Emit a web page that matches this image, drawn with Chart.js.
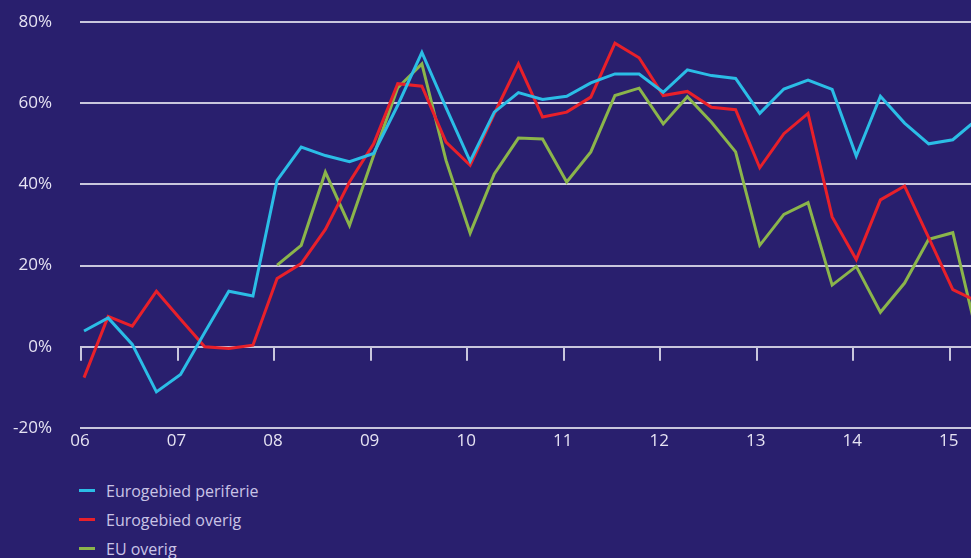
<!DOCTYPE html>
<html>
<head>
<meta charset="utf-8">
<script src="https://cdn.jsdelivr.net/npm/chart.js@4/dist/chart.umd.min.js"></script>
<style>
  html, body { margin: 0; padding: 0; background: #291f6e; overflow: hidden; }
  #wrap { position: relative; width: 971px; height: 458px; }
  .legend { list-style: none; margin: 0; padding: 0; position: absolute; left: 79px; top: 476px; }
  .legend li { height: 29px; display: flex; align-items: center; font: 16px "Open Sans", sans-serif; color: #c9c4e6; }
  .legend .swatch { width: 16px; height: 3px; margin-right: 11px; }
</style>
</head>
<body>
<div id="wrap"><canvas id="chart" width="971" height="458"></canvas></div>
<ul class="legend" id="legend"></ul>
<script>
// quarters 2006K1 .. 2015K2
const quarters = [
  '2006K1', '2006K2', '2006K3', '2006K4', '2007K1', '2007K2', '2007K3', '2007K4',
  '2008K1', '2008K2', '2008K3', '2008K4', '2009K1', '2009K2', '2009K3', '2009K4',
  '2010K1', '2010K2', '2010K3', '2010K4', '2011K1', '2011K2', '2011K3', '2011K4',
  '2012K1', '2012K2', '2012K3', '2012K4', '2013K1', '2013K2', '2013K3', '2013K4',
  '2014K1', '2014K2', '2014K3', '2014K4', '2015K1', '2015K2',
];

const periferie = [
  3.9, 7.1, 0.6, -11.1, -6.8, 3.5, 13.7, 12.5,
  41.0, 49.2, 47.1, 45.6, 47.6, 59.5, 72.5, 58.9,
  45.7, 57.8, 62.6, 60.9, 61.7, 65.0, 67.2, 67.2,
  62.7, 68.2, 66.8, 66.1, 57.5, 63.5, 65.7, 63.4,
  47.0, 61.7, 55.1, 50.0, 51.0, 56.0,
];

const eurogebiedOverig = [
  -7.6, 7.5, 5.1, 13.7, 6.8, 0.0, -0.4, 0.4,
  16.8, 20.5, 28.9, 40.6, 50.0, 64.8, 64.2, 50.4,
  44.7, 57.4, 69.7, 56.6, 57.8, 61.5, 74.8, 71.2,
  61.9, 62.9, 59.0, 58.4, 44.1, 52.5, 57.5, 32.0,
  21.5, 36.2, 39.6, 26.9, 14.1, 11.2,
];

const euOverig = [
  null, null, null, null, null, null, null, null,
  20.1, 25.0, 43.0, 29.9, 47.1, 63.8, 69.7, 45.9,
  28.0, 42.6, 51.4, 51.2, 40.6, 48.0, 61.9, 63.7,
  54.9, 61.6, 55.3, 48.0, 25.0, 32.6, 35.5, 15.2,
  19.8, 8.5, 15.7, 26.5, 28.1, 3.0,
];

const years = [2006, 2007, 2008, 2009, 2010, 2011, 2012, 2013, 2014, 2015];
const yTicks = [-20, 0, 20, 40, 60, 80];

// quarter -> decimal year, placed mid first month of the quarter
const toX = (q) => Number(q.slice(0, 4)) + (Number(q.slice(5)) - 1) / 4 + 1 / 24;
const series = (values) => quarters.map((q, i) => ({ x: toX(q), y: values[i] }));

const gridColor = '#c9c6dd';
const textColor = '#e6e3f3';
const tickFont = { family: 'Open Sans', size: 17 };

const datasets = [
  { label: 'Eurogebied periferie', data: series(periferie), borderColor: '#2bbde6' },
  { label: 'Eurogebied overig', data: series(eurogebiedOverig), borderColor: '#e8202a' },
  { label: 'EU overig', data: series(euOverig), borderColor: '#8bb54b' },
].map((d) => Object.assign(d, {
  borderWidth: 3,
  pointRadius: 0,
  tension: 0,
  spanGaps: false,
  borderJoinStyle: 'miter',
}));

// year tick marks hanging down from the 0% line
const zeroTicks = {
  id: 'zeroTicks',
  beforeDatasetsDraw(chart) {
    const { ctx, scales: { x, y } } = chart;
    const y0 = y.getPixelForValue(0);
    ctx.save();
    ctx.strokeStyle = gridColor;
    ctx.lineWidth = 2;
    ctx.beginPath();
    years.forEach((v) => {
      const px = Math.round(x.getPixelForValue(v)) + 1;
      ctx.moveTo(px, y0);
      ctx.lineTo(px, y0 + 14);
    });
    ctx.stroke();
    ctx.restore();
  },
};

const chart = new Chart(document.getElementById('chart'), {
  type: 'line',
  data: { datasets },
  plugins: [zeroTicks],
  options: {
    responsive: false,
    animation: false,
    events: [],
    layout: { padding: { top: 22, right: 0, left: 0, bottom: 0 } },
    plugins: { legend: { display: false }, tooltip: { enabled: false } },
    scales: {
      x: {
        type: 'linear',
        min: 2006,
        max: 2015.23,
        afterBuildTicks: (scale) => { scale.ticks = years.map((v) => ({ value: v })); },
        ticks: {
          color: textColor,
          font: tickFont,
          padding: 3,
          maxRotation: 0,
          autoSkip: false,
          callback: (v) => String(v).slice(2),
        },
        grid: { display: false, drawTicks: false },
        border: { display: false },
        afterFit: (scale) => { scale.height = 30; },
      },
      y: {
        min: -20,
        max: 80,
        afterBuildTicks: (scale) => { scale.ticks = yTicks.map((v) => ({ value: v })); },
        ticks: {
          color: textColor,
          font: tickFont,
          padding: 28,
          callback: (v) => v + '%',
        },
        grid: { color: gridColor, lineWidth: 2, drawTicks: false },
        border: { display: false },
        afterFit: (scale) => {
          scale.width = 80;
          scale.paddingTop = 0;
          scale.paddingBottom = 0;
        },
      },
    },
  },
});

// legend as a vertical list under the chart
const legend = document.getElementById('legend');
chart.data.datasets.forEach((d) => {
  const li = document.createElement('li');
  const sw = document.createElement('span');
  sw.className = 'swatch';
  sw.style.background = d.borderColor;
  li.appendChild(sw);
  li.appendChild(document.createTextNode(d.label));
  legend.appendChild(li);
});
</script>
</body>
</html>
